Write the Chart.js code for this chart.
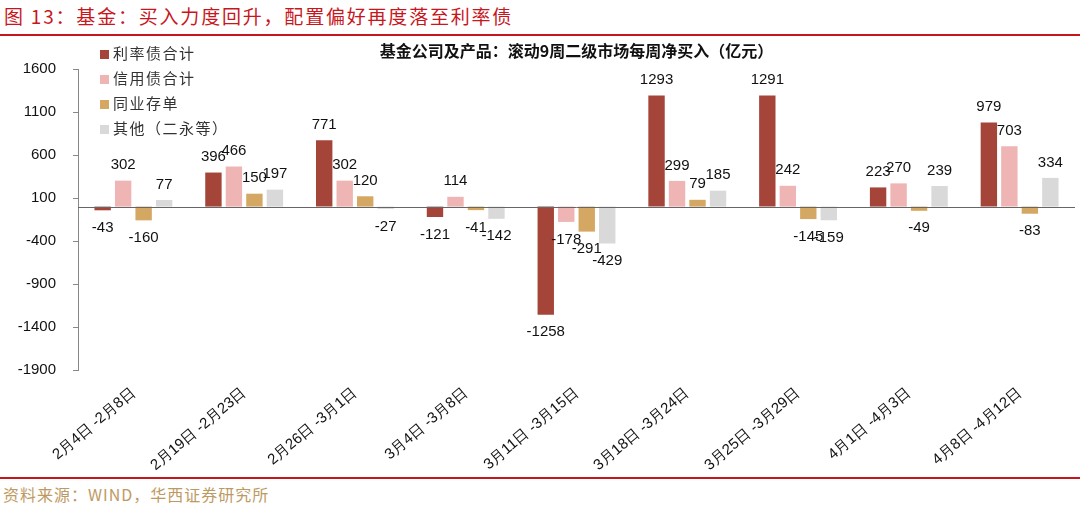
<!DOCTYPE html>
<html>
<head>
<meta charset="utf-8">
<script src="https://cdn.jsdelivr.net/npm/chart.js@4.4.1/dist/chart.umd.min.js"></script>
<style>
  body { margin: 0; background: #fff; }
  #page { position: relative; width: 1080px; height: 513px; overflow: hidden; font-family: "Noto Sans CJK SC", sans-serif; }
  #head { position: absolute; left: 4px; top: 2px; font-size: 19px; letter-spacing: 1.8px; color: #C8161D; white-space: nowrap; }
  .rule { position: absolute; left: 0; width: 1080px; height: 2px; background: #C8161D; }
  #foot { position: absolute; left: 3px; top: 482px; font-size: 16px; letter-spacing: 1px; color: #BE9A63; white-space: nowrap; }
  #box { position: absolute; left: 0; top: 37px; width: 1080px; height: 441px; }
  #legend { position: absolute; left: 100px; top: 40px; font-size: 15px; letter-spacing: 1.5px; color: #333; }
  #legend div { height: 25px; line-height: 25px; white-space: nowrap; }
  #legend span { display: inline-block; width: 9px; height: 9px; margin-right: 4px; vertical-align: 0px; }
</style>
</head>
<body>
<div id="page">
  <div id="head">图 13：基金：买入力度回升，配置偏好再度落至利率债</div>
  <div class="rule" style="top:34px"></div>
  <div id="box"><canvas id="fundChart" width="1080" height="441"></canvas></div>
  <div id="legend"></div>
  <div class="rule" style="top:477px"></div>
  <div id="foot">资料来源：WIND，华西证券研究所</div>
</div>
<script>
// weekly net buying, 亿元
const weeks = ['2月4日 -2月8日', '2月19日 -2月23日', '2月26日 -3月1日', '3月4日 -3月8日', '3月11日 -3月15日',
  '3月18日 -3月24日', '3月25日 -3月29日', '4月1日 -4月3日', '4月8日 -4月12日'];
const rateBonds = [-43, 396, 771, -121, -1258, 1293, 1291, 223, 979];
const creditBonds = [302, 466, 302, 114, -178, 299, 242, 270, 703];
const ncds = [-160, 150, 120, -41, -291, 79, -145, -49, -83];
const others = [77, 197, -27, -142, -429, 185, -159, 239, 334];
const yTicks = [-1900, -1400, -900, -400, 100, 600, 1100, 1600];

const seriesNames = ['利率债合计', '信用债合计', '同业存单', '其他（二永等）'];
const seriesColors = ['#A5453A', '#EFB4B4', '#D4A862', '#D9D9D9'];
const seriesData = [rateBonds, creditBonds, ncds, others];

const legend = document.getElementById('legend');
seriesNames.forEach((name, i) => {
  const row = document.createElement('div');
  row.innerHTML = '<span style="background:' + seriesColors[i] + '"></span>' + name;
  legend.appendChild(row);
});

const zeroLine = {
  id: 'zeroLine',
  afterDatasetsDraw(chart) {
    const { ctx, chartArea, scales } = chart;
    const y = Math.round(scales.y.getPixelForValue(0)) + 0.5;
    ctx.save();
    ctx.strokeStyle = '#666';
    ctx.lineWidth = 1;
    ctx.beginPath();
    ctx.moveTo(chartArea.left, y);
    ctx.lineTo(chartArea.right, y);
    ctx.stroke();
    ctx.restore();
  },
};

const barLabels = {
  id: 'barLabels',
  afterDatasetsDraw(chart) {
    const ctx = chart.ctx;
    ctx.save();
    ctx.font = '15px "Liberation Sans", Arial, sans-serif';
    ctx.fillStyle = '#111';
    ctx.textAlign = 'center';
    chart.data.datasets.forEach((ds, i) => {
      chart.getDatasetMeta(i).data.forEach((bar, j) => {
        const v = ds.data[j];
        if (v >= 0) {
          ctx.textBaseline = 'bottom';
          ctx.fillText(v, bar.x, bar.y - 8);
        } else {
          ctx.textBaseline = 'top';
          ctx.fillText(v, bar.x, bar.y + 10);
        }
      });
    });
    ctx.restore();
  },
};

new Chart(document.getElementById('fundChart'), {
  type: 'bar',
  data: {
    labels: weeks,
    datasets: seriesData.map((d, i) => ({
      label: seriesNames[i],
      data: d,
      backgroundColor: seriesColors[i],
      categoryPercentage: 0.74,
      barPercentage: 0.8,
    })),
  },
  options: {
    responsive: false,
    animation: false,
    layout: { padding: { left: 0, right: 5, top: 0, bottom: 0 } },
    plugins: {
      legend: { display: false },
      tooltip: { enabled: false },
      title: {
        display: true,
        fullSize: false,
        text: '基金公司及产品：滚动9周二级市场每周净买入（亿元）',
        color: '#111',
        font: { family: '"Noto Sans CJK SC", sans-serif', size: 16, weight: 'bold', lineHeight: 1.2 },
        padding: { top: 4.4, bottom: 8.4 },
      },
    },
    scales: {
      x: {
        grid: { display: false, drawTicks: false },
        border: { display: false },
        ticks: {
          autoSkip: false,
          minRotation: 40,
          maxRotation: 40,
          padding: 14,
          color: '#111',
          font: { family: '"Liberation Sans", Arial, sans-serif', size: 15 },
        },
        afterFit(s) { s.height = 108; },
      },
      y: {
        min: -1900,
        max: 1600,
        afterBuildTicks(s) { s.ticks = yTicks.map((v) => ({ value: v })); },
        grid: { display: true, drawOnChartArea: false, drawTicks: true, tickLength: 5, color: '#888' },
        border: { color: '#888' },
        ticks: {
          padding: 17,
          color: '#111',
          font: { family: '"Liberation Sans", Arial, sans-serif', size: 15 },
          callback: (v) => String(v),
        },
        afterFit(s) { s.width = 78; },
      },
    },
  },
  plugins: [zeroLine, barLabels],
});
</script>
</body>
</html>
